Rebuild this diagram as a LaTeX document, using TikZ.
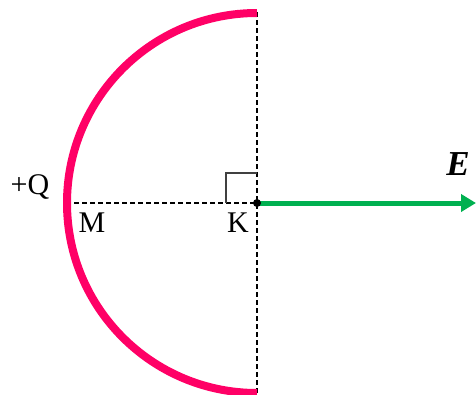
\documentclass[tikz,border=0pt]{standalone}
\usepackage{fontspec}
\setmainfont{Liberation Serif}
\usetikzlibrary{arrows.meta}
\definecolor{arcpink}{RGB}{255,0,102}
\definecolor{fieldgreen}{RGB}{0,176,80}
\tikzset{
  lbl/.style={font=\fontsize{30}{34}\selectfont, inner sep=0pt},
  guide/.style={line width=1.2pt, dash pattern=on 5pt off 3pt},
}
\begin{document}
\begin{tikzpicture}[x=1pt,y=-1pt]
\useasboundingbox (0,0) rectangle (476,394);
\coordinate (K) at (257,203);
\coordinate (T) at (257,12);
\coordinate (B) at (257,394);
\coordinate (M) at (66,203);
\coordinate (Eend) at (476,203);
% dashed lines
\draw[guide] (T) -- (B);
\draw[guide] (M) -- (K);
% right angle mark
\draw[line width=1.6pt, black!75] (257,173) -- (226,173) -- (226,203);
% semicircle
\draw[arcpink, line width=8pt] (K) ++(0,-190) arc[start angle=-90, end angle=-270, radius=190];
% field arrow
\draw[fieldgreen, line width=5pt, -{Triangle[length=15pt,width=17pt]}] (K) -- (Eend);
\fill (K) circle (4);
% labels
\node[lbl] (lq) at (30,187) {+Q};
\node[lbl] (lm) at (92,223) {M};
\node[lbl] (lk) at (238,223) {K};
\node[lbl, font=\fontsize{35}{38}\selectfont] (le) at (458,164) {\textbf{\textit{E}}};
\end{tikzpicture}
\end{document}
